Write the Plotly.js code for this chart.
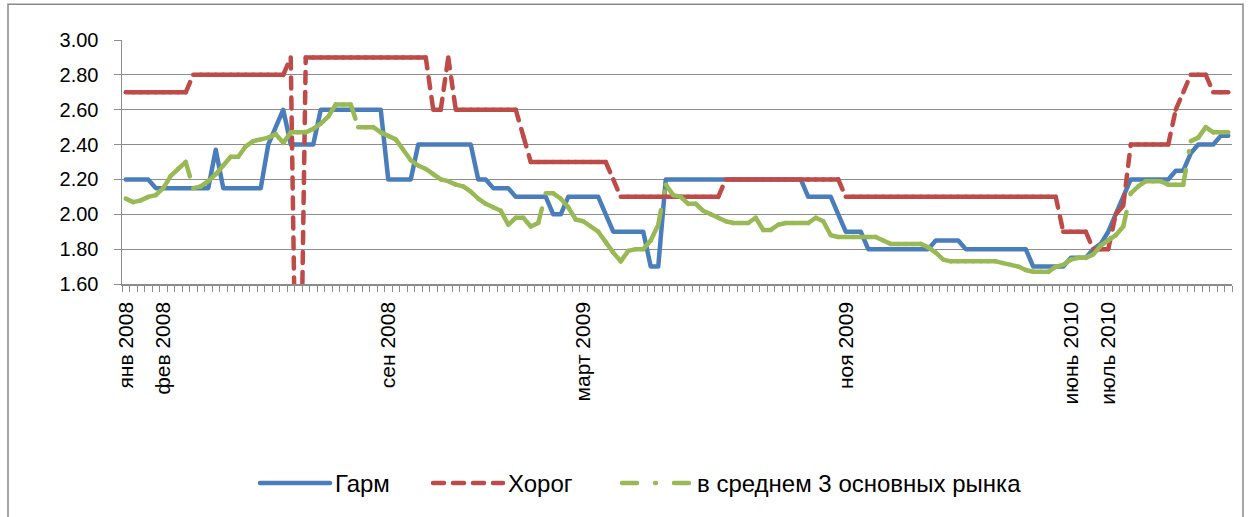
<!DOCTYPE html>
<html>
<head>
<meta charset="utf-8">
<script src="https://cdn.plot.ly/plotly-3.0.1.min.js"></script>
<style>
html,body{margin:0;padding:0;background:#ffffff;}
#chart{width:1251px;height:517px;}
</style>
</head>
<body>
<div id="chart"></div>
<script>
// ---- data (weekly prices) ----
const seriesNames = ['Гарм', 'Хорог', 'в среднем 3 основных рынка'];

const garm = [
  2.20,2.20,2.20,2.20,
  2.15,2.15,2.15,2.15,2.15,2.15,2.15,2.15,
  2.37,
  2.15,2.15,2.15,2.15,2.15,2.15,
  2.40,2.50,2.60,
  2.40,2.40,2.40,2.40,
  2.60,2.60,2.60,2.60,2.60,2.60,2.60,2.60,2.60,
  2.20,2.20,2.20,2.20,
  2.40,2.40,2.40,2.40,2.40,2.40,2.40,2.40,
  2.20,2.20,
  2.15,2.15,2.15,
  2.10,2.10,2.10,2.10,2.10,
  2.00,2.00,
  2.10,2.10,2.10,2.10,2.10,
  2.00,
  1.90,1.90,1.90,1.90,1.90,
  1.70,1.70,
  2.20,2.20,2.20,2.20,2.20,2.20,2.20,2.20,2.20,2.20,2.20,2.20,2.20,2.20,2.20,2.20,2.20,2.20,2.20,
  2.10,2.10,2.10,2.10,
  2.00,
  1.90,1.90,1.90,
  1.80,1.80,1.80,1.80,1.80,1.80,1.80,1.80,1.80,
  1.85,1.85,1.85,1.85,
  1.80,1.80,1.80,1.80,1.80,1.80,1.80,1.80,1.80,
  1.70,1.70,1.70,1.70,1.70,
  1.75,1.75,1.75,
  1.80,1.83,1.90,2.00,2.10,
  2.20,2.20,2.20,2.20,2.20,2.20,
  2.25,2.25,
  2.35,
  2.40,2.40,2.40,
  2.45,2.45
];

const khorog = [
  2.70,2.70,2.70,2.70,2.70,2.70,2.70,2.70,2.70,
  2.80,2.80,2.80,2.80,2.80,2.80,2.80,2.80,2.80,2.80,2.80,2.80,2.80,
  2.90,
  0,
  2.90,2.90,2.90,2.90,2.90,2.90,2.90,2.90,2.90,2.90,2.90,2.90,2.90,2.90,2.90,2.90,2.90,
  2.60,2.60,
  2.90,
  2.60,2.60,2.60,2.60,2.60,2.60,2.60,2.60,2.60,
  2.45,
  2.30,2.30,2.30,2.30,2.30,2.30,2.30,2.30,2.30,2.30,2.30,
  2.20,
  2.10,2.10,2.10,2.10,2.10,2.10,2.10,2.10,2.10,2.10,2.10,2.10,2.10,2.10,
  2.20,2.20,2.20,2.20,2.20,2.20,2.20,2.20,2.20,2.20,2.20,2.20,2.20,2.20,2.20,2.20,
  2.10,2.10,2.10,2.10,2.10,2.10,2.10,2.10,2.10,2.10,2.10,2.10,2.10,2.10,2.10,
  2.10,2.10,2.10,2.10,2.10,2.10,2.10,2.10,2.10,2.10,2.10,2.10,2.10,2.10,
  1.90,1.90,1.90,1.90,
  1.80,1.80,1.80,
  2.00,2.05,
  2.40,2.40,2.40,2.40,2.40,2.40,
  2.60,2.70,
  2.80,2.80,2.80,
  2.70,2.70,2.70
];

const avg3 = [
  2.09,2.07,2.08,2.10,2.11,2.15,2.22,2.26,2.30,2.15,
  2.16,2.19,2.23,2.28,2.33,2.33,2.39,2.42,2.43,2.44,
  2.46,2.41,2.47,2.47,2.47,2.49,2.52,2.56,2.63,2.63,
  2.63,2.50,2.50,2.50,2.47,2.45,2.43,2.37,2.31,2.28,
  2.26,2.23,2.20,2.19,2.17,2.16,2.13,2.09,2.06,2.04,
  2.02,1.94,1.98,1.98,1.93,1.95,2.12,2.12,2.09,2.04,
  1.97,1.96,1.93,1.90,1.84,1.78,1.73,1.79,1.80,1.80,
  1.85,1.94,2.17,2.11,2.10,2.06,2.06,2.02,2.00,1.98,
  1.96,1.95,1.95,1.95,1.98,1.91,1.91,1.94,1.95,1.95,
  1.95,1.95,1.98,1.96,1.88,1.87,
  1.87,1.87,1.87,1.87,1.87,
  1.85,
  1.83,1.83,1.83,1.83,1.83,
  1.81,1.78,1.74,
  1.73,1.73,1.73,1.73,1.73,1.73,1.73,
  1.72,1.71,1.70,1.68,1.67,1.67,1.67,1.70,1.71,1.74,
  1.75,1.75,1.77,1.82,1.85,1.88,1.93,2.12,2.16,2.19,
  2.19,2.19,2.17,2.17,2.17,2.42,2.44,2.50,2.47,2.47,
  2.47
];

const tickIndex = [0, 5, 35, 61, 96, 126, 131];
const tickText  = ['янв 2008', 'фев 2008', 'сен 2008', 'март 2009', 'ноя 2009', 'июнь 2010', 'июль 2010'];
const yTickVals = [1.6, 1.8, 2.0, 2.2, 2.4, 2.6, 2.8, 3.0];

// ---- geometry / style ----
const W = 1251, H = 517, L = 122, R = 19, T = 40, B = 231;
const pw = W - L - R, ph = H - T - B;
const px2x = p => (p - L) / pw;
const px2y = p => ((T + ph) - p) / ph;

const nCat = garm.length;
const catIdx = garm.map((_, i) => i);
const boundaries = [];
for (let i = 0; i <= nCat; i++) boundaries.push(i - 0.5);

const colors = ['#4A7EBB', '#BE4B48', '#98B954'];
const dashes = ['solid', '11px,9px', '15px,18px,1px,18px'];
const legendIds = ['legend', 'legend2', 'legend3'];
const LW = 4.5;

const data = [];
// solid series: one trace
data.push({
  type: 'scatter', mode: 'lines', name: seriesNames[0], legend: legendIds[0],
  x: catIdx, y: garm, line: { color: colors[0], width: LW, dash: dashes[0] }, hoverinfo: 'skip'
});
// dashed series: one trace per segment, so the dash pattern restarts on every
// segment (short flat steps look solid, steep jumps look dashed, as in the source)
[khorog, avg3].forEach((vals, j) => {
  const k = j + 1;
  for (let i = 0; i < vals.length - 1; i++) {
    data.push({
      type: 'scatter', mode: 'lines', name: seriesNames[k],
      legend: legendIds[k], legendgroup: 's' + k, showlegend: i === 0,
      x: [catIdx[i], catIdx[i + 1]], y: [vals[i], vals[i + 1]],
      line: { color: colors[k], width: LW, dash: dashes[k] }, hoverinfo: 'skip'
    });
  }
});

const gridCol = '#8C8C8C';
const legFont = { size: 24, color: '#000000' };
const mkLegend = (leftPx) => ({
  orientation: 'h', x: px2x(leftPx), xanchor: 'left', y: px2y(487), yanchor: 'middle',
  font: legFont, itemwidth: 70, bgcolor: 'rgba(0,0,0,0)'
});

const layout = {
  width: W, height: H,
  margin: { l: L, r: R, t: T, b: B, pad: 0 },
  paper_bgcolor: '#ffffff', plot_bgcolor: '#ffffff',
  font: { family: 'Liberation Sans, Arial, sans-serif', color: '#000000' },
  showlegend: true,
  legend: mkLegend(255),
  legend2: mkLegend(428),
  legend3: mkLegend(617),
  xaxis: {
    range: [-0.5, nCat - 0.5], tickmode: 'array', tickvals: tickIndex, ticktext: tickText,
    tickangle: -90, ticks: '', showgrid: false, zeroline: false,
    showline: true, linecolor: gridCol, linewidth: 1.5,
    tickfont: { size: 21, color: '#000000' }, ticklabelstandoff: 8,
    minor: { tickmode: 'array', tickvals: boundaries, ticks: 'outside', ticklen: 6, tickcolor: gridCol, tickwidth: 1, showgrid: false }
  },
  yaxis: {
    range: [1.6, 3.0], tickmode: 'array', tickvals: yTickVals, tickformat: '.2f',
    showgrid: true, gridcolor: gridCol, gridwidth: 1, zeroline: false,
    showline: true, linecolor: gridCol, linewidth: 1.5,
    ticks: 'outside', ticklen: 7, tickcolor: gridCol,
    tickfont: { size: 20, color: '#000000' }, ticklabelstandoff: 11
  },
  shapes: [{
    type: 'rect', xref: 'paper', yref: 'paper',
    x0: px2x(8), x1: px2x(1243), y0: px2y(540), y1: px2y(4),
    line: { color: '#898989', width: 1.5 }, fillcolor: 'rgba(0,0,0,0)', layer: 'below'
  }]
};

function roundCaps() {
  document.querySelectorAll('.scatterlayer .js-line, .legendlines path, .legend path.js-line').forEach(p => {
    p.style.strokeLinecap = 'round';
    p.style.strokeLinejoin = 'round';
    p.setAttribute('stroke-linecap', 'round');
    p.setAttribute('stroke-linejoin', 'round');
  });
}
Plotly.newPlot('chart', data, layout, { staticPlot: true, displayModeBar: false }).then(roundCaps);
</script>
</body>
</html>
